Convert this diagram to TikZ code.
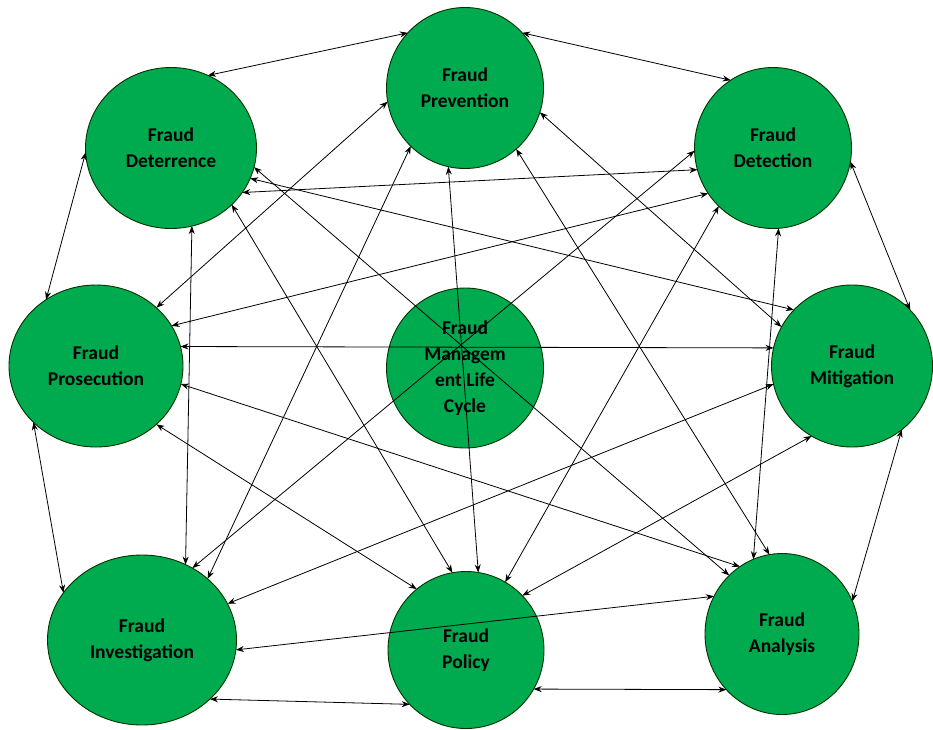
\documentclass[tikz,border=0pt]{standalone}
\usepackage{fontspec}
\setmainfont{Carlito}
\usetikzlibrary{shapes.geometric,arrows.meta}
\definecolor{fraudgreen}{HTML}{00AA4F}
\begin{document}
\begin{tikzpicture}[x=1pt, y=-1pt, >={Stealth[length=8pt,width=6pt]},
  phase/.style={ellipse, draw=black!80!green, line width=0.9pt, fill=fraudgreen,
    inner sep=0pt, outer sep=0pt, align=center,
    font=\bfseries\fontsize{19.5}{26}\selectfont},
  link/.style={<->, line width=0.8pt, black}]
  \useasboundingbox (0,0) rectangle (933,729);
  \node[phase, minimum width=157, minimum height=160] (mgmt) at (465,368) {Fraud\\Managem\\ent Life\\Cycle};
  \node[phase, minimum width=157, minimum height=161] (prev) at (465,88) {Fraud\\Prevention};
  \node[phase, minimum width=171, minimum height=161] (deter) at (171,148) {Fraud\\Deterrence};
  \node[phase, minimum width=157, minimum height=161] (detect) at (773,148) {Fraud\\Detection};
  \node[phase, minimum width=174, minimum height=162] (pros) at (96,366) {Fraud\\Prosecution};
  \node[phase, minimum width=161, minimum height=162] (mitig) at (852,366) {Fraud\\Mitigation};
  \node[phase, minimum width=189, minimum height=170] (invest) at (142,640) {Fraud\\Investigation};
  \node[phase, minimum width=156, minimum height=157] (policy) at (466,650) {Fraud\\Policy};
  \node[phase, minimum width=154, minimum height=161] (anal) at (782,634) {Fraud\\Analysis};

  \draw[link] (deter.63) -- (prev.136);
  \draw[link] (deter.183) -- (pros.127);
  \draw[link] (deter.-13) -- (anal.132);
  \draw[link] (deter.-21) -- (mitig.136);
  \draw[link] (deter.-32) -- (detect.196);
  \draw[link] (deter.-43) -- (policy.100);
  \draw[link] (deter.-75) -- (invest.60);

  \draw[link] (prev.44) -- (detect.122);
  \draw[link] (prev.190) -- (pros.44);
  \draw[link] (prev.227) -- (invest.43);
  \draw[link] (prev.258) -- (policy.81);
  \draw[link] (prev.-18) -- (mitig.151);
  \draw[link] (prev.-50) -- (anal.99);

  \draw[link] (detect.182) -- (invest.55);
  \draw[link] (detect.215) -- (pros.28);
  \draw[link] (detect.227) -- (policy.60);
  \draw[link] (detect.274) -- (anal.111);
  \draw[link] (detect.-10) -- (mitig.44);

  \draw[link] (pros.13) -- (mitig.167);
  \draw[link] (pros.-12) -- (anal.122);
  \draw[link] (pros.-44) -- (policy.129);
  \draw[link] (pros.222) -- (invest.149);

  \draw[link] (mitig.193) -- (invest.23);
  \draw[link] (mitig.240) -- (policy.44);
  \draw[link] (mitig.-52) -- (anal.25);

  \draw[link] (invest.-6) -- (anal.151);
  \draw[link] (invest.-41) -- (policy.224);

  \draw[link] (policy.-30) -- (anal.225);
\end{tikzpicture}
\end{document}
